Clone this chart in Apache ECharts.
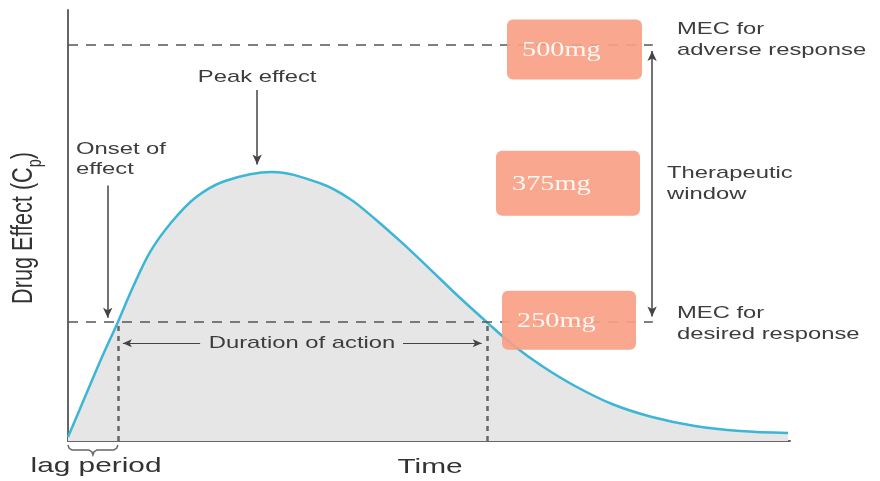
<!DOCTYPE html>
<html><head><meta charset="utf-8">
<script src="https://cdn.jsdelivr.net/npm/echarts@6/dist/echarts.min.js"></script>
<style>html,body{margin:0;padding:0;background:#fff}#c{width:880px;height:481px}</style>
</head><body><div id="c"></div>
<script>
// ---- data (time in arbitrary units 0..100, effect expressed in mg-equivalent) ----
const timePoints = [0, 2.35, 4.71, 6.9, 9.0, 11.36, 14.13, 17.59, 21.75, 28.25, 35.18, 39.06, 42.52, 45.98, 49.99, 54.02, 58.0, 61.63, 65.65, 70.22, 75.35, 80.89, 86.84, 93.07, 99.72];
const effectMg   = [146.6, 182.6, 218.6, 250, 281.6, 313.1, 338.4, 361.8, 377.1, 385.2, 374.4, 360.9, 342.9, 323.1, 298.7, 273.5, 250, 229.4, 210.5, 192.5, 176.3, 164.6, 156.5, 152, 150.2];
const doseLabels = ['500mg', '375mg', '250mg'];
const doseLevels = [500, 375, 250];
const mecDesired = 250;
const mecAdverse = 500;
const onsetTime = 6.9;
const endTime = 58.0;
const peakArrowTime = 26.2;
const windowTime = 81.0;
const axisMin = [0, 143];
const axisMax = [100, 531];

const chart = echarts.init(document.getElementById('c'), null, {renderer: 'canvas'});
const curve = timePoints.map((t, i) => [t, effectMg[i]]);
const FONT = '"Liberation Sans", Arial, sans-serif';
const TXT = '#3d3d3d';

chart.setOption({
  animation: false,
  grid: {left: 68, right: 90, top: 10, bottom: 40},
  xAxis: {type: 'value', min: axisMin[0], max: axisMax[0],
    axisLine: {show: true, onZero: false, lineStyle: {color: '#666', width: 2}},
    axisTick: {show: false}, axisLabel: {show: false}, splitLine: {show: false}},
  yAxis: {type: 'value', min: axisMin[1], max: axisMax[1],
    axisLine: {show: true, onZero: false, lineStyle: {color: '#666', width: 2}},
    axisTick: {show: false}, axisLabel: {show: false}, splitLine: {show: false}},
  series: [
    {type: 'line', data: curve, smooth: 0.35, showSymbol: false, z: 3,
      lineStyle: {color: '#3cb6d6', width: 2.5},
      areaStyle: {color: '#e6e6e6', opacity: 1, origin: 'start'}},
    {type: 'line', data: [], z: 4, markLine: {silent: true, symbol: ['none', 'none'], label: {show: false},
      lineStyle: {color: '#555', width: 1.5, type: [10, 8]},
      data: [
        [{coord: [axisMin[0], mecAdverse]}, {coord: [windowTime, mecAdverse]}],
        [{coord: [axisMin[0], mecDesired]}, {coord: [windowTime, mecDesired]}]
      ]}},
    {type: 'line', data: [], z: 4, markLine: {silent: true, symbol: ['none', 'none'], label: {show: false},
      lineStyle: {color: '#666', width: 2.5, type: [5, 5]},
      data: [
        [{coord: [onsetTime, axisMin[1]]}, {coord: [onsetTime, mecDesired]}],
        [{coord: [endTime, axisMin[1]]}, {coord: [endTime, mecDesired]}]
      ]}},
    {type: 'line', data: [], z: 5, markLine: {silent: true, symbol: ['none', 'arrow'], symbolSize: [7, 10], label: {show: false},
      lineStyle: {color: '#444', width: 1.5, type: 'solid'},
      data: [
        [{coord: [peakArrowTime, 459]}, {coord: [peakArrowTime, 392]}],
        [{coord: [5.5, 373]}, {coord: [5.5, 254]}]
      ]}},
    {type: 'line', data: [], z: 5, markLine: {silent: true, symbol: ['none', 'arrow'], symbolSize: [6, 9], label: {show: false},
      lineStyle: {color: '#444', width: 1.2, type: 'solid'},
      data: [
        [{coord: [18.3, 231]}, {coord: [7.6, 231]}],
        [{coord: [46.4, 231]}, {coord: [57.3, 231]}]
      ]}},
    {type: 'line', data: [], z: 5, markLine: {silent: true, symbol: ['arrow', 'arrow'], symbolSize: [7, 10], label: {show: false},
      lineStyle: {color: '#444', width: 1.5, type: 'solid'},
      data: [
        [{coord: [windowTime - 0.1, 255]}, {coord: [windowTime - 0.1, 494]}]
      ]}}
  ]
});

const P = (x, y) => chart.convertToPixel({xAxisIndex: 0, yAxisIndex: 0}, [x, y]);

function txt(x, y, s, align, opt) {
  opt = opt || {};
  return {type: 'text', x: x, y: y, z: 100, scaleX: opt.sx || 1.4, scaleY: opt.sy || 1, rotation: opt.rot || 0,
    style: {text: s, font: (opt.size || 17) + 'px ' + (opt.family || FONT), fill: opt.fill || TXT,
      textAlign: align, align: align, textVerticalAlign: 'middle', verticalAlign: 'middle'}};
}

const g = [];
// dose boxes
const boxGeom = [
  {x: 507, w: 135, h: 60, dy: 5, tx: 522},
  {x: 496, w: 144, h: 65, dy: 0, tx: 512},
  {x: 502, w: 134, h: 59, dy: -2, tx: 517}
];
doseLevels.forEach((lv, i) => {
  const py = P(0, lv)[1] + boxGeom[i].dy;
  g.push({type: 'rect', z: 60, shape: {x: boxGeom[i].x, y: py - boxGeom[i].h / 2, width: boxGeom[i].w, height: boxGeom[i].h, r: 6},
    style: {fill: '#f99f85', opacity: 0.92}});
  g.push(txt(boxGeom[i].tx, py + 1, doseLabels[i], 'left', {family: '"Liberation Serif", "DejaVu Serif", serif', size: 21, fill: '#fff7f2', sx: 1.35}));
});

const pA = P(0, mecAdverse)[1], pD = P(0, mecDesired)[1];
g.push(txt(677, pA - 15, 'MEC for', 'left'));
g.push(txt(677, pA + 6, 'adverse response', 'left'));
g.push(txt(667, P(0, 375)[1] - 10, 'Therapeutic', 'left'));
g.push(txt(667, P(0, 375)[1] + 11, 'window', 'left'));
g.push(txt(677, pD - 9, 'MEC for', 'left'));
g.push(txt(677, pD + 12, 'desired response', 'left'));

g.push(txt(P(peakArrowTime, 0)[0], 77, 'Peak effect', 'center'));
g.push(txt(76, 149, 'Onset of', 'left'));
g.push(txt(76, 169, 'effect', 'left'));
g.push(txt(302, P(0, 231)[1], 'Duration of action', 'center'));

// axis titles
const xBot = P(0, axisMin[1])[1];
g.push(txt(96, xBot + 25, 'lag period', 'center', {size: 21, fill: '#333', sx: 1.42}));
g.push(txt(430, xBot + 26, 'Time', 'center', {size: 21, fill: '#333', sx: 1.42}));
g.push({type: 'text', x: 27, y: 228, z: 100, rotation: Math.PI / 2, scaleX: 1.03, scaleY: 1.4,
  style: {text: '{a|Drug Effect (C}{b|p}{a|)}', textAlign: 'center', align: 'center', textVerticalAlign: 'middle', verticalAlign: 'middle',
    rich: {a: {font: '21px ' + FONT, fill: '#333', verticalAlign: 'top', lineHeight: 26},
           b: {font: '14px ' + FONT, fill: '#333', verticalAlign: 'bottom', lineHeight: 16}}}});

// lag-period brace
const x0 = P(0, 0)[0], x1 = P(onsetTime, 0)[0], xm = (x0 + x1) / 2, y0 = xBot + 4;
g.push({type: 'polyline', z: 100, shape: {points: [[x0, y0], [x0 + 1, y0 + 3], [x0 + 4, y0 + 5], [xm - 4, y0 + 5], [xm - 1, y0 + 7], [xm, y0 + 10], [xm + 1, y0 + 7], [xm + 4, y0 + 5], [x1 - 4, y0 + 5], [x1 - 1, y0 + 3], [x1, y0]]},
  style: {stroke: '#666', lineWidth: 1.5, fill: null}});

chart.setOption({graphic: {elements: g}});
</script></body></html>
